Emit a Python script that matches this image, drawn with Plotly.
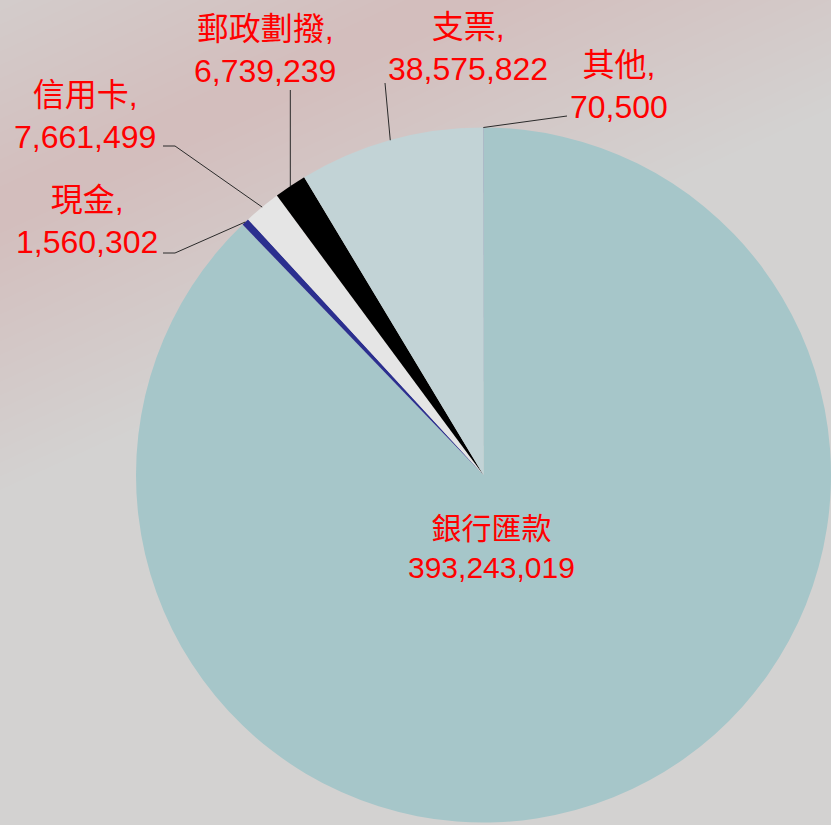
import math
import plotly.graph_objects as go

# ---- data ----
labels = ["銀行匯款", "現金", "信用卡", "郵政劃撥", "支票", "其他"]
values = [393243019, 1560302, 7661499, 6739239, 38575822, 70500]
colors = ["#a6c6c9", "#2b2f8f", "#e5e5e5", "#000000", "#c2d3d6", "#8a9abf"]

# ---- layout geometry (pixels) ----
FIG_W, FIG_H = 831, 825
L, R, T, B = 136, 0, 125, 0
W = FIG_W - L - R
H = FIG_H - T - B
RAD = min(W, H) / 2.0


def px(x):
    return (x - L) / W


def py(y):
    return 1 - (y - T) / H


# label text centres (pixels), font sizes and leader-line bend points (pixels)
label_pos = {
    "銀行匯款": (492, 548),
    "現金": (87, 221),
    "信用卡": (85, 116),
    "郵政劃撥": (265, 50),
    "支票": (468, 48),
    "其他": (619, 86),
}
label_size = {"銀行匯款": 30}
leader_pts = {
    "現金": [(175, 253), (163, 253)],
    "信用卡": [(175, 146), (163, 146)],
    "郵政劃撥": [(None, 90)],
    "支票": [(385, 83)],
    "其他": [(567, 116)],
}

FONT = "Liberation Sans, Arial, Noto Sans CJK TC, sans-serif"

fig = go.Figure(
    go.Pie(
        labels=labels,
        values=values,
        sort=False,
        direction="clockwise",
        rotation=0,
        marker=dict(colors=colors, line=dict(width=0)),
        textinfo="none",
        hoverinfo="label+value",
        showlegend=False,
    )
)

shapes = []
# soft pinkish diagonal streak in the background (nested translucent bands)
K = 0.46
U0 = 210
for i in range(20):
    hw = 280 - i * 13.5
    u1, u2 = U0 - hw, U0 + hw
    pts = [(0, u1), (0, u2), (u2 / K, 0), (u1 / K, 0)]
    path = "M " + " L ".join(f"{px(x)},{py(y)}" for x, y in pts) + " Z"
    shapes.append(dict(type="path", xref="paper", yref="paper", path=path,
                       fillcolor="rgba(205,140,145,0.0075)", line=dict(width=0),
                       layer="below"))

# leader lines from slice mid-angles
total = sum(values)
cum = 0.0
for lab, val in zip(labels, values):
    mid = (cum + val / 2.0) / total
    cum += val
    if lab not in leader_pts:
        continue
    th = 2 * math.pi * mid
    sx = L + W / 2 + RAD * math.sin(th)
    sy = T + H / 2 - RAD * math.cos(th)
    pts = [(sx, sy)]
    for (x, y) in leader_pts[lab]:
        pts.append((sx if x is None else x, y))
    path = "M " + " L ".join(f"{px(x)},{py(y)}" for x, y in pts)
    shapes.append(dict(type="path", xref="paper", yref="paper", path=path,
                       line=dict(color="#2a2a2a", width=1)))

annotations = []
for lab, val in zip(labels, values):
    x, y = label_pos[lab]
    txt = f"{lab}<br>{val:,}" if lab == "銀行匯款" else f"{lab},<br>{val:,}"
    annotations.append(dict(
        x=px(x), y=py(y), xref="paper", yref="paper",
        text=txt, showarrow=False, xanchor="center", yanchor="middle",
        align="center",
        font=dict(family=FONT, size=label_size.get(lab, 32), color="#ff0000"),
    ))

fig.update_layout(
    width=FIG_W, height=FIG_H,
    margin=dict(l=L, r=R, t=T, b=B, pad=0),
    paper_bgcolor="#d3d2d1",
    plot_bgcolor="rgba(0,0,0,0)",
    shapes=shapes,
    annotations=annotations,
    font=dict(family=FONT),
)

fig.write_html(
    "out.html",
    config={"displayModeBar": False},
    post_script="document.body.style.margin='0';document.body.style.padding='0';",
)
